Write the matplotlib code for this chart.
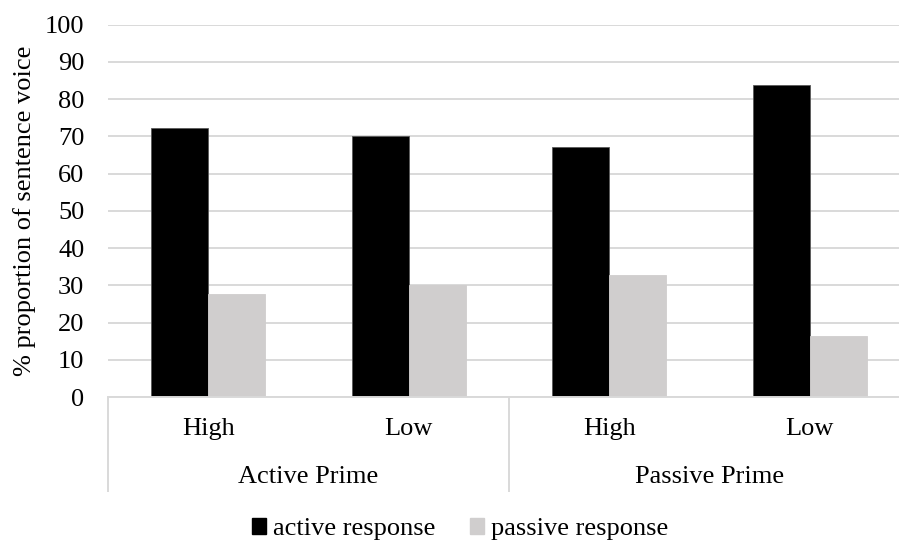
import matplotlib
matplotlib.use("Agg")
import matplotlib.pyplot as plt
from matplotlib.transforms import blended_transform_factory, IdentityTransform
from matplotlib.patches import Patch

# Data
primes = ["Active Prime", "Passive Prime"]
levels = ["High", "Low", "High", "Low"]
active_response = [72.3, 70.0, 67.1, 83.7]
passive_response = [27.7, 30.0, 32.9, 16.3]

plt.rcParams["font.family"] = ["Liberation Serif", "DejaVu Serif"]
FS = 19

W, H = 899, 540
fig = plt.figure(figsize=(W / 100, H / 100), dpi=100)

left_px, right_px = 108, 899
bottom_px, top_px = 397, 24.7
slot_px = 200.5
ax = fig.add_axes([left_px / W, (H - bottom_px) / H,
                   (right_px - left_px) / W, (bottom_px - top_px) / H])

x = list(range(len(levels)))
bw = 0.285
ax.bar([i - bw / 2 for i in x], active_response, width=bw,
       color="black", edgecolor="#595959", linewidth=0.6, zorder=3,
       label="active response")
ax.bar([i + bw / 2 for i in x], passive_response, width=bw,
       color="#d0cece", edgecolor="#d0cece", linewidth=0.6, zorder=3,
       label="passive response")

ax.set_xlim(-0.5, -0.5 + (right_px - left_px) / slot_px)
ax.set_ylim(0, 100)
ax.set_yticks(range(0, 101, 10))
ax.tick_params(axis="y", length=0, labelsize=FS, pad=17)
ax.set_xticks([])
ax.yaxis.grid(True, color="#d9d9d9", linewidth=1.4, zorder=0)
for s in ["top", "right", "left"]:
    ax.spines[s].set_visible(False)
ax.spines["bottom"].set_color("#d9d9d9")
ax.spines["bottom"].set_linewidth(1.4)
ax.spines["bottom"].set_zorder(4)

ax.set_ylabel("% proportion of sentence voice", fontsize=FS)
ax.yaxis.set_label_coords(-(left_px - 36) / (right_px - left_px), 0.5)

# Two-level category axis below the plot
trans = blended_transform_factory(ax.transData, IdentityTransform())
for i, lab in enumerate(levels):
    ax.text(i, H - 429, lab, transform=trans, ha="center", va="center",
            fontsize=FS, clip_on=False)
for g, name in enumerate(primes):
    ax.text(2 * g + 0.5, H - 477, name, transform=trans, ha="center",
            va="center", fontsize=FS, clip_on=False)
for xs in [-0.5, 1.5, 3.5]:
    ax.plot([xs, xs], [H - 397, H - 492], transform=trans, color="#d9d9d9",
            linewidth=1.4, clip_on=False, solid_capstyle="butt")

handles = [Patch(facecolor="black", edgecolor="black"),
           Patch(facecolor="#d0cece", edgecolor="#d0cece")]
fig.legend(handles, ["active response", "passive response"], loc="center",
           bbox_to_anchor=(460 / W, 11 / H), ncol=2, frameon=False,
           fontsize=FS, handlelength=0.55, handleheight=0.55,
           handletextpad=0.25, columnspacing=1.3, borderpad=0)

fig.savefig("out.png", dpi=100)
